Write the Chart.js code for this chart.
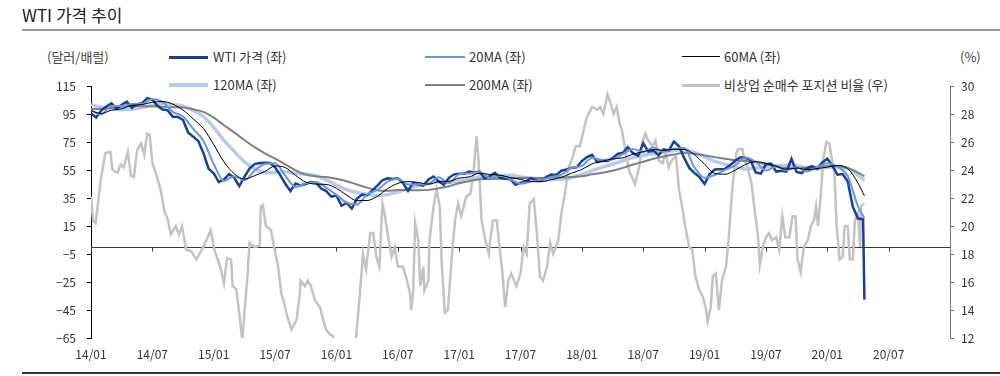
<!DOCTYPE html>
<html><head><meta charset="utf-8">
<script src="https://cdn.jsdelivr.net/npm/chart.js@4.4.1/dist/chart.umd.min.js"></script>
<style>
html,body{margin:0;padding:0;background:#fff;}
#wrap{position:relative;width:1000px;height:376px;overflow:hidden;font-family:"Liberation Sans Narrow","Arial Narrow","Noto Sans CJK KR",sans-serif;}
#c{position:absolute;left:0;top:0;}
.title{position:absolute;left:22px;top:4px;font-family:"Noto Sans CJK KR",sans-serif;font-size:17px;line-height:22px;color:#222;}
.rule{position:absolute;left:22px;top:29px;width:978px;height:2px;background:#9a9a9a;}
.bottomrule{position:absolute;left:22px;top:372px;width:978px;height:2px;background:#333;}
.txt{position:absolute;font-size:13px;line-height:16px;color:#333;white-space:nowrap;}
.sw{position:absolute;}
</style></head>
<body>
<div id="wrap">
  <div class="title">WTI 가격 추이</div>
  <div class="rule"></div>
  <div class="txt" style="left:47px;top:49px;color:#444;">(달러/배럴)</div>
  <div class="txt" style="left:960px;top:49px;color:#444;">(%)</div>

  <div class="sw" style="left:169px;top:56px;width:39px;height:3px;background:#1c3f94;"></div>
  <div class="txt" style="left:213px;top:49px;">WTI 가격 (좌)</div>
  <div class="sw" style="left:425px;top:56px;width:40px;height:2px;background:#6a96e0;"></div>
  <div class="txt" style="left:469px;top:49px;">20MA (좌)</div>
  <div class="sw" style="left:682px;top:56px;width:38px;height:1px;background:#000;"></div>
  <div class="txt" style="left:724px;top:49px;">60MA (좌)</div>

  <div class="sw" style="left:169px;top:83px;width:39px;height:4px;background:#b6cbf0;"></div>
  <div class="txt" style="left:213px;top:77px;">120MA (좌)</div>
  <div class="sw" style="left:425px;top:84px;width:40px;height:2px;background:#808080;"></div>
  <div class="txt" style="left:469px;top:77px;">200MA (좌)</div>
  <div class="sw" style="left:682px;top:84px;width:38px;height:3px;background:#c3c3c3;"></div>
  <div class="txt" style="left:724px;top:77px;">비상업 순매수 포지션 비율 (우)</div>

  <canvas id="c" width="1000" height="376"></canvas>
  <div class="bottomrule"></div>
</div>
<script>
// ---- data (x = months since 2014-01-01) ----
const xTickMonths = [0,6,12,18,24,30,36,42,48,54,60,66,72,78];
const xTickLabels = ['14/01','14/07','15/01','15/07','16/01','16/07','17/01','17/07','18/01','18/07','19/01','19/07','20/01','20/07'];
const leftTicks = [-65,-45,-25,-5,15,35,55,75,95,115];
const rightTicks = [12,14,16,18,20,22,24,26,28,30];

// WTI price, semi-monthly from 2014-01 (step 0.5 month)
const wtiSemiMonthly = [
 95.4,92.5,97.5,100.4,102.6,98.9,101.6,103.8,99.4,102.0,102.7,106.4,105.3,100.9,98.2,97.6,93.1,92.9,90.7,81.8,78.8,75.6,67.0,55.9,
 52.7,46.3,48.2,52.0,49.6,43.5,50.1,56.0,59.2,60.0,60.2,60.0,56.9,51.4,45.2,40.0,45.4,44.0,45.0,46.4,46.1,41.7,39.9,36.0,
 36.8,29.4,31.6,27.5,34.4,37.5,36.8,40.4,43.8,47.7,49.0,48.5,49.0,45.9,40.1,45.7,44.7,43.9,48.2,50.4,46.9,44.5,49.4,51.9,
 52.3,52.4,53.9,53.1,53.8,48.9,50.6,52.9,49.3,48.7,48.4,44.5,46.0,46.5,49.2,47.6,47.3,49.9,51.7,51.5,54.5,55.3,56.6,57.0,
 61.4,64.3,65.8,60.6,61.6,61.4,63.5,66.5,67.3,71.3,67.0,65.1,74.1,68.1,68.8,65.5,69.8,68.9,75.3,71.9,63.7,56.5,52.9,49.9,
 45.0,52.1,55.3,55.6,55.8,58.5,61.6,64.1,63.6,62.0,53.3,52.5,59.1,59.6,53.9,54.5,53.9,62.9,53.6,52.8,56.2,57.7,56.0,60.2,
 63.0,58.1,51.6,52.1,46.8,28.7,20.3,19.9
];
const wtiLastDate = '2020-04-20';
const wtiLastValue = -37.6;

// Moving averages, monthly from 2014-01 (step 1 month), last value at 2020-04-20
const ma20 = [97.6,94.6,100.8,100.8,102.1,102.2,105.8,103.6,96.5,93.2,84.4,75.8,59.3,47.2,50.6,47.8,54.5,59.3,59.8,50.9,42.9,45.5,46.2,42.4,37.2,31.7,30.3,37.5,40.8,46.7,48.8,44.7,44.8,45.2,49.8,45.7,52.0,52.5,53.5,49.3,51.1,48.5,45.2,46.6,48.0,49.8,51.6,56.6,57.9,63.7,62.2,62.7,66.3,70.0,67.9,71.0,68.1,70.2,70.8,57.0,49.5,51.4,55.0,58.2,63.9,60.8,54.7,57.4,54.8,57.0,54.0,57.1,59.9,57.5,50.5,29.2,20.5];
const ma60 = [97.3,95.4,97.7,98.7,101.2,101.7,103.4,103.9,102.0,97.8,91.4,84.5,73.2,60.8,52.4,48.5,51.0,53.9,57.9,56.7,51.2,46.4,44.9,44.7,41.9,37.1,33.1,33.2,36.2,41.7,45.4,46.7,46.1,44.9,46.6,46.9,49.2,50.1,52.7,51.8,51.3,49.6,48.3,46.8,46.6,48.1,49.8,52.7,55.4,59.4,61.3,62.9,63.7,66.3,68.1,69.6,69.0,69.8,69.7,66.0,59.1,52.6,52.0,54.9,59.0,61.0,59.8,57.6,55.6,56.4,55.3,56.0,57.0,58.2,56.0,45.7,36.5];
const ma120 = [101.6,99.9,99.0,98.0,98.3,99.7,101.1,102.6,101.8,100.6,97.6,93.2,85.5,76.1,68.4,60.9,55.9,53.1,53.2,53.8,52.5,52.2,50.8,48.0,44.2,41.0,38.9,37.6,36.7,37.4,39.3,41.5,43.9,45.2,46.7,46.5,47.0,48.3,49.8,50.5,50.7,51.2,50.0,49.0,48.1,48.2,48.3,49.6,51.8,54.6,57.0,59.1,61.6,63.8,65.5,66.7,67.7,68.9,69.7,67.5,64.4,61.2,59.0,57.0,55.8,56.5,57.3,58.3,58.3,58.1,56.5,55.8,56.7,56.7,56.0,51.4,47.5];
const ma200 = [98.5,98.7,99.5,100.2,100.8,100.5,100.5,100.2,99.8,99.7,98.4,96.5,92.4,87.0,81.9,76.4,71.3,66.9,63.2,59.0,54.8,51.8,50.5,50.0,48.7,47.0,44.6,42.4,40.5,40.1,40.7,40.6,40.5,40.8,42.0,43.4,45.6,47.1,48.4,48.6,48.9,49.2,49.3,49.4,49.2,49.7,49.6,50.0,50.5,51.9,53.0,54.4,56.5,58.9,60.9,63.0,64.6,66.0,67.3,66.6,65.4,64.2,63.1,61.9,61.5,60.5,59.2,57.9,56.3,56.3,56.7,57.3,57.8,57.7,56.4,53.2,50.5];

// Non-commercial net long ratio (%), [month, value]
const cftcRatio = [[0,22.1],[0.2,20.4],[0.45,20.2],[0.65,21.4],[0.95,23.3],[1.4,25.2],[1.9,25.3],[2.1,24.0],[2.6,23.8],[2.9,24.4],[3.2,24.2],[3.6,25.3],[3.9,23.6],[4.2,23.5],[4.5,25.4],[4.9,25.9],[5.2,25.1],[5.5,26.6],[5.75,26.5],[6.0,24.5],[6.5,23.4],[6.8,22.6],[7.2,21.0],[7.5,20.5],[7.8,19.4],[8.3,20.0],[8.6,19.4],[8.9,20.0],[9.3,18.3],[9.8,18.2],[10.3,17.6],[10.6,18.0],[10.9,18.4],[11.3,19.0],[11.7,19.7],[12.1,18.2],[12.4,17.6],[12.7,16.9],[13.0,15.9],[13.3,17.7],[13.7,17.6],[13.85,15.7],[14.2,15.5],[14.5,13.8],[14.8,11.8],[15.0,13.8],[15.3,16.4],[15.5,18.8],[16.0,18.5],[16.5,18.6],[16.6,21.4],[16.8,21.5],[17.1,20.0],[17.6,19.7],[17.9,18.5],[18.3,17.1],[18.6,15.2],[18.9,14.5],[19.2,13.5],[19.6,12.6],[20.1,13.3],[20.4,15.0],[20.5,16.1],[20.9,15.7],[21.2,16.1],[21.5,15.7],[21.9,14.7],[22.4,14.2],[22.7,13.3],[23.0,12.6],[23.3,12.3],[23.7,12.1],[24.0,11.5],[24.8,11.0],[25.6,11.5],[25.9,11.9],[26.3,15.2],[26.6,18.0],[26.9,16.9],[27.3,19.5],[27.6,19.5],[27.9,17.8],[28.2,17.1],[28.5,21.6],[28.7,20.9],[29.0,19.5],[29.4,17.8],[29.7,18.5],[30.0,17.1],[30.5,17.1],[30.9,16.1],[31.2,15.2],[31.3,14.0],[31.5,15.2],[31.7,20.2],[32.0,19.0],[32.2,15.7],[32.5,17.1],[32.6,15.4],[33.0,16.1],[33.1,19.0],[33.5,21.4],[33.8,22.6],[34.1,21.4],[34.3,17.3],[34.6,13.8],[34.9,14.0],[35.3,18.0],[35.6,20.4],[35.9,21.6],[36.2,20.7],[36.7,22.1],[37.1,22.3],[37.4,23.8],[37.7,26.4],[37.9,24.7],[38.2,20.4],[38.5,19.2],[38.9,18.0],[39.0,18.8],[39.3,20.4],[39.7,20.4],[39.8,19.5],[40.2,16.9],[40.5,14.2],[40.8,16.1],[41.1,16.6],[41.6,15.7],[42.0,16.6],[42.3,18.5],[42.6,18.0],[42.9,21.6],[43.3,21.9],[43.6,19.5],[43.9,16.4],[44.2,16.1],[44.6,17.1],[44.9,18.8],[45.2,18.0],[45.7,19.0],[46.0,20.9],[46.4,22.6],[46.7,24.2],[47.0,24.7],[47.4,25.7],[47.8,25.7],[48.2,26.9],[48.5,27.8],[49.0,28.5],[49.5,28.3],[49.8,28.5],[50.1,28.0],[50.5,29.4],[50.8,28.8],[51.1,28.0],[51.4,28.5],[51.7,27.3],[51.9,26.9],[52.3,25.2],[52.6,24.0],[52.9,23.5],[53.2,23.0],[53.6,24.2],[53.9,25.9],[54.2,26.6],[54.5,26.1],[54.9,25.7],[55.2,26.1],[55.5,24.7],[55.9,24.5],[56.2,25.2],[56.5,24.2],[56.8,24.7],[57.2,25.0],[57.5,22.6],[57.8,21.4],[58.1,20.0],[58.5,18.5],[58.8,18.3],[59.1,16.4],[59.5,15.4],[59.8,15.0],[60.1,14.2],[60.3,13.2],[60.6,14.2],[60.8,16.4],[61.1,16.6],[61.4,14.0],[61.7,16.1],[62.1,17.1],[62.4,19.5],[62.7,22.6],[63.1,25.2],[63.3,25.5],[63.7,25.5],[63.9,24.7],[64.2,24.2],[64.6,23.0],[64.9,21.1],[65.2,19.5],[65.4,17.2],[65.7,18.5],[66.0,19.2],[66.3,19.5],[66.6,19.0],[67.0,19.2],[67.3,18.3],[67.6,20.7],[67.9,19.2],[68.3,19.2],[68.6,20.7],[68.9,20.7],[69.1,17.6],[69.4,16.7],[69.7,18.5],[70.1,19.0],[70.4,20.0],[70.7,20.4],[70.9,21.4],[71.1,20.0],[71.4,22.6],[71.6,24.7],[71.9,26.0],[72.2,25.9],[72.4,25.0],[72.7,23.8],[72.9,20.2],[73.2,17.6],[73.5,17.8],[73.7,20.0],[74.0,20.0],[74.2,17.6],[74.5,17.6],[74.7,20.4],[75.0,20.9],[75.2,18.5],[75.3,21.4],[75.6,21.6]];

// ---- helpers ----
function toMonths(d){ const [y,m,dd]=d.split('-').map(Number); return (y-2014)*12+(m-1)+(dd-1)/30; }
const lastX = toMonths(wtiLastDate);
const wtiData = wtiSemiMonthly.map((v,i)=>({x:i*0.5,y:v})).concat([{x:lastX,y:wtiLastValue}]);
const maPts = arr => arr.map((v,i)=>({x: i<arr.length-1 ? i : lastX, y:v}));
const cftcData = cftcRatio.map(p=>({x:p[0],y:p[1]}));
const fmt = v => v<0 ? '\u2212'+Math.abs(v) : String(v);
const FONT = '"Liberation Sans Narrow","Arial Narrow","Noto Sans CJK KR",sans-serif';

const zeroLine = {
  id:'zeroLine',
  beforeDatasetsDraw(chart){
    const {ctx, chartArea, scales} = chart;
    const x = scales.x, y = scales.y;
    const py = Math.round(y.getPixelForValue(0))+0.5;
    ctx.save();
    ctx.strokeStyle='#3a3a3a'; ctx.lineWidth=1;
    ctx.beginPath();
    ctx.moveTo(chartArea.left, py); ctx.lineTo(chartArea.right, py);
    xTickMonths.forEach(t=>{ const px=Math.round(x.getPixelForValue(t))+0.5; ctx.moveTo(px,py); ctx.lineTo(px,py+4); });
    ctx.stroke();
    ctx.restore();
  }
};

const line = (label, data, color, width, order, axis, extra) => Object.assign({
  label, data, borderColor: color, backgroundColor: color, borderWidth: width,
  pointRadius: 0, fill: false, order, yAxisID: axis, xAxisID: 'x', tension: 0
}, extra||{});

new Chart(document.getElementById('c'), {
  type: 'line',
  data: { datasets: [
    line('60MA (좌)', maPts(ma60), '#000000', 1, 0, 'y', {cubicInterpolationMode:'monotone'}),
    line('20MA (좌)', maPts(ma20), '#6a96e0', 2, 1, 'y', {cubicInterpolationMode:'monotone'}),
    line('WTI 가격 (좌)', wtiData, '#1c3f94', 2.5, 2, 'y'),
    line('200MA (좌)', maPts(ma200), '#808080', 2, 3, 'y', {cubicInterpolationMode:'monotone'}),
    line('120MA (좌)', maPts(ma120), '#b6cbf0', 3.5, 4, 'y', {cubicInterpolationMode:'monotone'}),
    line('비상업 순매수 포지션 비율 (우)', cftcData, '#c3c3c3', 2.5, 5, 'y2')
  ]},
  options: {
    responsive: false, animation: false, events: [],
    layout: { padding: { top: 86, left: 0, right: 0, bottom: 0 } },
    plugins: { legend: { display: false }, tooltip: { enabled: false } },
    scales: {
      x: {
        type: 'linear', position: 'bottom', min: 0, max: 84,
        afterBuildTicks: s => { s.ticks = xTickMonths.map(v=>({value:v})); },
        afterFit: s => { s.height = 38; },
        grid: { display: false, drawTicks: false }, border: { display: false },
        ticks: { autoSkip: false, maxRotation: 0, padding: 9, color: '#333', font: { size: 12, family: FONT },
          callback: (v, i) => xTickLabels[i] }
      },
      y: {
        type: 'linear', position: 'left', min: -65, max: 115,
        afterBuildTicks: s => { s.ticks = leftTicks.map(v=>({value:v})); },
        afterFit: s => { s.width = 91; },
        grid: { drawOnChartArea: false, drawTicks: true, tickLength: 4, color: '#000' },
        border: { display: true, color: '#000', width: 1 },
        ticks: { padding: 11, color: '#333', font: { size: 12, family: FONT }, callback: v => fmt(v) }
      },
      y2: {
        type: 'linear', position: 'right', min: 12, max: 30,
        afterBuildTicks: s => { s.ticks = rightTicks.map(v=>({value:v})); },
        afterFit: s => { s.width = 50; },
        grid: { drawOnChartArea: false, drawTicks: true, tickLength: 4, color: '#777' },
        border: { display: true, color: '#777', width: 1 },
        ticks: { padding: 7, color: '#333', font: { size: 12, family: FONT }, callback: v => String(v) }
      }
    }
  },
  plugins: [zeroLine]
});
</script>
</body></html>
